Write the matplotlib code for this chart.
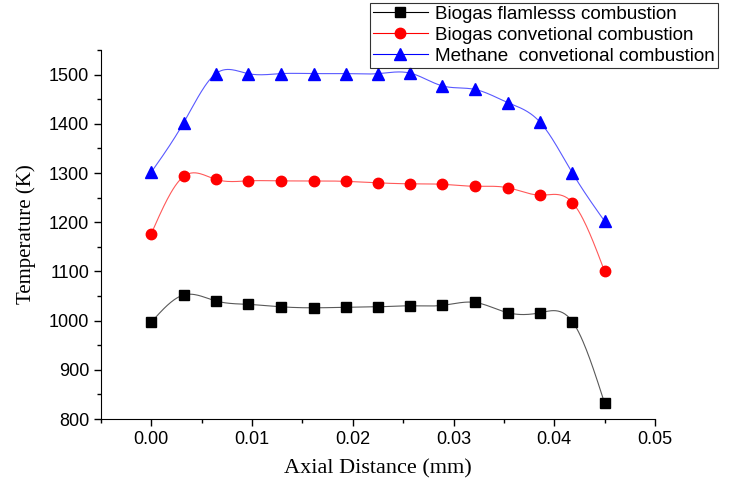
import numpy as np
import matplotlib.pyplot as plt
from matplotlib.ticker import MultipleLocator

# axial positions (mm)
x = [0.0, 0.0032, 0.0064, 0.0096, 0.0129, 0.0161, 0.0193, 0.0225,
     0.0257, 0.0289, 0.0321, 0.0354, 0.0386, 0.0418, 0.045]

biogas_flameless = [997, 1052, 1040, 1033, 1028, 1026, 1027, 1028,
                    1030, 1031, 1037, 1016, 1016, 998, 832]
biogas_conventional = [1177, 1293, 1287, 1284, 1284, 1284, 1283, 1280,
                       1278, 1277, 1273, 1270, 1255, 1240, 1100]
methane_conventional = [1302, 1402, 1502, 1502, 1502, 1502, 1502, 1502,
                        1503, 1477, 1470, 1443, 1403, 1300, 1202]

labels = ['Biogas flamlesss combustion',
          'Biogas convetional combustion',
          'Methane  convetional combustion']


def spline(xs, ys, n=400):
    # natural cubic spline, like Origin's "spline" connect
    xs = np.asarray(xs, float)
    ys = np.asarray(ys, float)
    h = np.diff(xs)
    k = len(xs)
    a = np.zeros((k, k))
    b = np.zeros(k)
    a[0, 0] = a[-1, -1] = 1
    for i in range(1, k - 1):
        a[i, i - 1] = h[i - 1]
        a[i, i] = 2 * (h[i - 1] + h[i])
        a[i, i + 1] = h[i]
        b[i] = 6 * ((ys[i + 1] - ys[i]) / h[i] - (ys[i] - ys[i - 1]) / h[i - 1])
    m = np.linalg.solve(a, b)
    xx = np.linspace(xs[0], xs[-1], n)
    j = np.clip(np.searchsorted(xs, xx) - 1, 0, k - 2)
    t0 = xx - xs[j]
    t1 = xs[j + 1] - xx
    hj = h[j]
    yy = (m[j] * t1 ** 3 + m[j + 1] * t0 ** 3) / (6 * hj) \
        + (ys[j] / hj - m[j] * hj / 6) * t1 + (ys[j + 1] / hj - m[j + 1] * hj / 6) * t0
    return xx, yy


fig = plt.figure(figsize=(7.3, 4.8), dpi=100)
ax = fig.add_axes([101 / 730, 1 - 419 / 480, 554 / 730, 369 / 480])

series = [(biogas_flameless, 'black', 's', 6.5),
          (biogas_conventional, 'red', 'o', 7.5),
          (methane_conventional, 'blue', '^', 8)]
handles = []
for (ys, c, mk, ms), lab in zip(series, labels):
    xx, yy = spline(x, ys)
    ax.plot(xx, yy, color=c, lw=0.8, alpha=0.65)
    ax.plot(x, ys, ls='none', marker=mk, color=c, ms=ms)
    h, = ax.plot([], [], color=c, lw=0.8, marker=mk, ms=ms, label=lab)
    handles.append(h)

ax.set_xlim(-0.005, 0.05)
ax.set_ylim(800, 1550)
ax.set_xticks([0.0, 0.01, 0.02, 0.03, 0.04, 0.05])
ax.set_xticklabels(['0.00', '0.01', '0.02', '0.03', '0.04', '0.05'])
ax.set_yticks(range(800, 1501, 100))
ax.xaxis.set_minor_locator(MultipleLocator(0.005))
ax.yaxis.set_minor_locator(MultipleLocator(50))
ax.tick_params(which='major', direction='out', length=5, width=1,
               labelsize=13)
ax.tick_params(which='minor', direction='out', length=3, width=1)
for lbl in ax.get_xticklabels() + ax.get_yticklabels():
    lbl.set_family('Liberation Sans')
ax.spines['top'].set_visible(False)
ax.spines['right'].set_visible(False)

ax.set_xlabel('Axial Distance (mm)', family='Liberation Serif', fontsize=16,
              labelpad=8)
ax.set_ylabel('Temperature (K)', family='Liberation Serif', fontsize=15,
              labelpad=9)

leg = fig.legend(handles=handles, loc='upper left',
                 bbox_to_anchor=(370 / 730, 1 - 3 / 480),
                 prop={'family': 'Liberation Sans', 'size': 13.6},
                 frameon=True, fancybox=False, edgecolor='black',
                 borderpad=0.15, labelspacing=0.2, handlelength=2.9,
                 handletextpad=0.4, borderaxespad=0)
leg.get_frame().set_linewidth(0.8)

fig.savefig('out.png', dpi=100)
